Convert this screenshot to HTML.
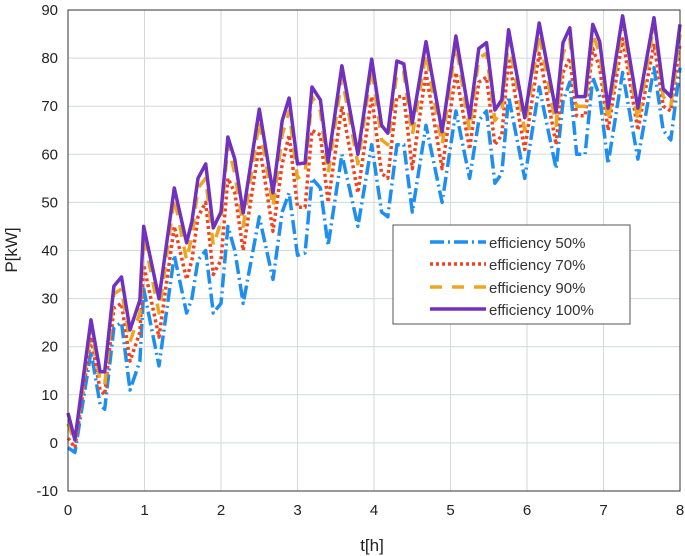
<!DOCTYPE html>
<html><head><meta charset="utf-8"><style>
html,body{margin:0;padding:0;background:#fff;}
svg{display:block;font-family:"Liberation Sans",sans-serif;}
</style></head><body>
<svg id="chart" width="685" height="556" viewBox="0 0 685 556" xmlns="http://www.w3.org/2000/svg">
<g id="grid"></g>
<g id="series"></g>
<rect x="68" y="10" width="612" height="481" fill="none" stroke="#333" stroke-width="1"/>
<g id="ticks"></g>
<text x="372" y="551" font-size="17" text-anchor="middle" fill="#222">t[h]</text>
<text x="17" y="250" font-size="17" text-anchor="middle" fill="#222" transform="rotate(-90 17 250)">P[kW]</text>
<g>
<rect x="393" y="225" width="237" height="99" fill="#fff" stroke="#555" stroke-width="1"/>
<g><line x1="430" y1="242" x2="486" y2="242" stroke="#1e8ff0" stroke-width="3.5" stroke-dasharray="14,4,2,4"/><text x="489" y="248" font-size="15" fill="#333">efficiency 50%</text></g>
<g><line x1="430" y1="264" x2="486" y2="264" stroke="#ee4422" stroke-width="3.5" stroke-dasharray="3,3"/><text x="489" y="270" font-size="15" fill="#333">efficiency 70%</text></g>
<g><line x1="430" y1="287" x2="486" y2="287" stroke="#eea520" stroke-width="3.5" stroke-dasharray="12,10"/><text x="489" y="293" font-size="15" fill="#333">efficiency 90%</text></g>
<g><line x1="430" y1="309" x2="486" y2="309" stroke="#7030c0" stroke-width="3.5"/><text x="489" y="315" font-size="15" fill="#333">efficiency 100%</text></g>
</g>
</svg>
<script>
const times=[0,0.09,0.3,0.42,0.48,0.6,0.7,0.81,0.94,0.99,1.19,1.39,1.55,1.62,1.7,1.8,1.9,2.0,2.09,2.18,2.29,2.5,2.68,2.8,2.89,3.0,3.1,3.19,3.3,3.4,3.58,3.79,3.97,4.1,4.18,4.3,4.39,4.5,4.68,4.89,5.07,5.25,5.37,5.47,5.58,5.67,5.76,5.97,6.16,6.38,6.47,6.56,6.65,6.76,6.86,6.95,7.06,7.25,7.45,7.66,7.78,7.88,8.0];
const eff50=[-1,-2,19,8,7,24,25,11,17,32,16,39,27,30,38,40,27,29,45,40,29,47,34,48,52,39,39.5,55,53,41,60,45,62,48,47,62,62,48,66,50,69,55,67,69,54,56,72,55,74,57,71,75,60,60,76,72,58,77,59,78,65,63,78];
const eff70=[1,-1,22,11,10,28,29,17,23,37,22,45,34,38,47,50,35,38,55,52,40,62,44,58,64,49,49,65,64,50,70,52,72,56,55,72,72,57,77,57,77,61,75,76,62,64,80,61,81,62,77,80,68,68,82,78,65,84,65,83,70,69,83];
const eff90=[4,0,24,13,12,31,32,21,27,43,27,51,38,43,53,55,41,46,62,56,45,67,49,64,69,55,56,72,69,56,76,58,78,63,62,77,77,64,81,62,83,65,80,81,67,69,84,65,85,66,81,84,70,70,85,81,67,87,67,87,72,70,85];
const eff100=[6.2,0.6,25.6,14.8,14.8,32.6,34.5,23.5,29.7,45,30,53,41.6,46,55,58,44.7,48,63.6,59,47.8,69.4,52,67,71.7,58,58.2,74,71.3,58.4,78.4,60,79.8,66,64.4,79.4,78.8,66.5,83.4,64.7,84.6,67.6,82,83.2,69.2,71.3,85.9,67.6,87.3,68.8,83.2,86.3,72,72,87,83.4,69.6,88.8,69.6,88.4,73.6,72,87];
const xTicks=[0,1,2,3,4,5,6,7,8];
const yTicks=[-10,0,10,20,30,40,50,60,70,80,90];
const NS="http://www.w3.org/2000/svg";
function xs(t){return 68+(t-0)/8*612;}
function ys(v){return 491-(v+10)/100*481;}
const grid=document.getElementById('grid'),ticks=document.getElementById('ticks'),ser=document.getElementById('series');
xTicks.forEach(t=>{
 const l=document.createElementNS(NS,'line');
 
 
 l.setAttribute('x1',xs(t));l.setAttribute('x2',xs(t));l.setAttribute('y1',10);l.setAttribute('y2',491);
 l.setAttribute('stroke','#d3dada');l.setAttribute('stroke-width','1');grid.appendChild(l);
 const tx=document.createElementNS(NS,'text');
 
 
 tx.setAttribute('x',xs(t));tx.setAttribute('y',515);tx.setAttribute('font-size','15');tx.setAttribute('text-anchor','middle');tx.setAttribute('fill','#222');
 tx.textContent=t;ticks.appendChild(tx);
});
yTicks.forEach(v=>{
 const l=document.createElementNS(NS,'line');
 
 
 l.setAttribute('x1',68);l.setAttribute('x2',680);l.setAttribute('y1',ys(v));l.setAttribute('y2',ys(v));
 l.setAttribute('stroke','#d3dada');l.setAttribute('stroke-width','1');grid.appendChild(l);
 const tx=document.createElementNS(NS,'text');
 
 
 tx.setAttribute('x',58);tx.setAttribute('y',ys(v)+5);tx.setAttribute('font-size','15');tx.setAttribute('text-anchor','end');tx.setAttribute('fill','#222');
 tx.textContent=v;ticks.appendChild(tx);
});
const specs=[[eff50,'#1e8ff0','14,4,2,4','series-eff-50'],[eff70,'#ee4422','3,3','series-eff-70'],[eff90,'#eea520','12,10','series-eff-90'],[eff100,'#7030c0','','series-eff-100']];
specs.forEach(s=>{
 const p=document.createElementNS(NS,'polyline');
 
 
 p.setAttribute('points',times.map((t,i)=>xs(t).toFixed(1)+','+ys(s[0][i]).toFixed(1)).join(' '));
 p.setAttribute('fill','none');p.setAttribute('stroke',s[1]);p.setAttribute('stroke-width','3.5');
 p.setAttribute('stroke-linejoin','round');
 if(s[2])p.setAttribute('stroke-dasharray',s[2]);
 ser.appendChild(p);
});
</script>
</body></html>
